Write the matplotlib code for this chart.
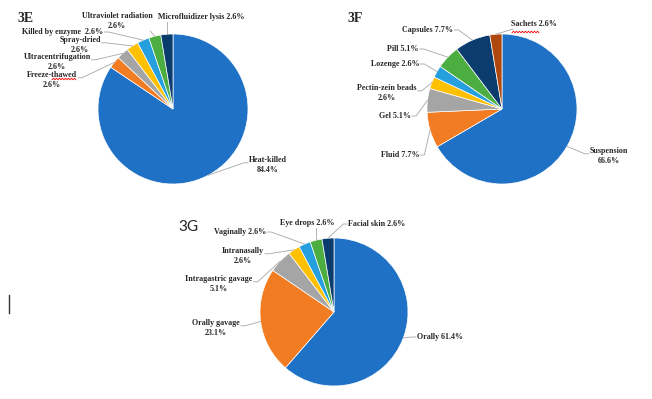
import numpy as np
import matplotlib
matplotlib.use("Agg")
import matplotlib.pyplot as plt
from matplotlib.lines import Line2D

W, H = 652, 399

# ---- data ----
kill_labels = ["Heat-killed\n84.4%", "Freeze-thawed\n2.6%", "Ultracentrifugation\n2.6%",
               "Spray-dried\n2.6%", "Killed by enzyme  2.6%", "Ultraviolet radiation\n2.6%",
               "Microfluidizer lysis 2.6%"]
kill_vals = [84.4, 2.6, 2.6, 2.6, 2.6, 2.6, 2.6]

form_labels = ["Suspension\n66.6%", "Fluid 7.7%", "Gel 5.1%", "Pectin-zein beads\n2.6%",
               "Lozenge 2.6%", "Pill 5.1%", "Capsules 7.7%", "Sachets 2.6%"]
form_vals = [66.6, 7.7, 5.1, 2.6, 2.6, 5.1, 7.7, 2.6]

route_labels = ["Orally 61.4%", "Orally gavage\n23.1%", "Intragastric gavage\n5.1%",
                "Intranasally\n2.6%", "Vaginally 2.6%", "Eye drops 2.6%", "Facial skin 2.6%"]
route_vals = [61.4, 23.1, 5.1, 2.6, 2.6, 2.6, 2.6]

# ---- layout (pixels, y from top) ----
colors = ["#1F71C6", "#F27C22", "#A5A5A5", "#FFC000", "#259FDE", "#4CAD40", "#0B3C6E", "#B0470C"]

kill_pos = [(268, 165), (52, 80), (57, 62), (80, 45), (63, 32), (117, 21), (201, 17)]
kill_attach = ["side", "side", "side", "side", "side", "bottom", "bottom"]
form_pos = [(609, 156), (400, 155), (395, 116), (387, 93), (395, 64), (403, 49), (428, 30), (534, 24)]
form_attach = ["side"] * 7 + ["bottom"]
route_pos = [(440, 337), (216, 328), (219, 284), (243, 256), (240, 232), (307, 223), (377, 224)]
route_attach = ["side", "side", "side", "side", "side", "bottom", "side"]

fig = plt.figure(figsize=(W / 100, H / 100), dpi=100)
fig.patch.set_facecolor("white")

font = dict(family="Liberation Serif", fontweight="bold", fontsize=5.8, color="#262626")

leaders = []


def draw_pie(cx, cy, r, vals, labels, pos, attach):
    ax = fig.add_axes([(cx - r) / W, (H - cy - r) / H, 2 * r / W, 2 * r / H])
    wedges, _ = ax.pie(vals, colors=colors[:len(vals)], startangle=90, counterclock=False,
                       wedgeprops=dict(edgecolor="white", linewidth=0.5))
    ax.set_xlim(-1, 1)
    ax.set_ylim(-1, 1)
    for w, lab, (tx, ty), mode in zip(wedges, labels, pos, attach):
        a = np.deg2rad((w.theta1 + w.theta2) / 2)
        t = fig.text(tx / W, 1 - ty / H, lab, ha="center", va="center",
                     multialignment="center", linespacing=1.4, **font)
        leaders.append((ax, (np.cos(a), np.sin(a)), t, mode, tx > cx))


draw_pie(173, 109, 75, kill_vals, kill_labels, kill_pos, kill_attach)
draw_pie(502, 109, 75, form_vals, form_labels, form_pos, form_attach)
draw_pie(334, 312, 74, route_vals, route_labels, route_pos, route_attach)

# leader lines: short horizontal stub at the label, then to the wedge edge
fig.canvas.draw()
rend = fig.canvas.get_renderer()
for ax, pt, t, mode, right in leaders:
    bb = t.get_window_extent(rend)
    wx, wy = ax.transData.transform(pt)
    if mode == "bottom":
        sx = min(max(wx, bb.x0 + 2), bb.x1 - 2)
        xs = [sx, wx]
        ys = [bb.y0 - 1, wy]
    else:
        sy = bb.y0 + bb.height * (0.62 if "\n" in t.get_text() else 0.5)
        if right:
            sx = bb.x0 - 1
            xs = [sx, sx - 4, wx]
        else:
            sx = bb.x1 + 1
            xs = [sx, sx + 4, wx]
        ys = [sy, sy, wy]
    fig.add_artist(Line2D(np.array(xs) / W, np.array(ys) / H, color="#A6A6A6", lw=0.6))

# panel letters
fig.text(17 / W, 1 - 18 / H, "3E", family="Liberation Serif", fontweight="bold",
         fontsize=10, ha="left", va="center", color="#262626")
fig.text(347 / W, 1 - 18 / H, "3F", family="Liberation Serif", fontweight="bold",
         fontsize=10, ha="left", va="center", color="#262626")
fig.text(178 / W, 1 - 227 / H, "3G", family="Lato", fontsize=11,
         ha="left", va="center", color="#262626")


# spell-check squiggles and text cursor
def squiggle(x0, x1, y):
    xs = np.arange(x0, x1 + 0.1, 1.5)
    ys = y + np.where(np.arange(len(xs)) % 2 == 0, 0.8, -0.8)
    fig.add_artist(Line2D(xs / W, (H - ys) / H, color="red", lw=0.6))


squiggle(52, 77, 79)
squiggle(512, 540, 32)
fig.add_artist(Line2D([9 / W, 9 / W], [1 - 295 / H, 1 - 313 / H], color="#333333", lw=1))

fig.savefig("out.png", dpi=100, facecolor="white")
